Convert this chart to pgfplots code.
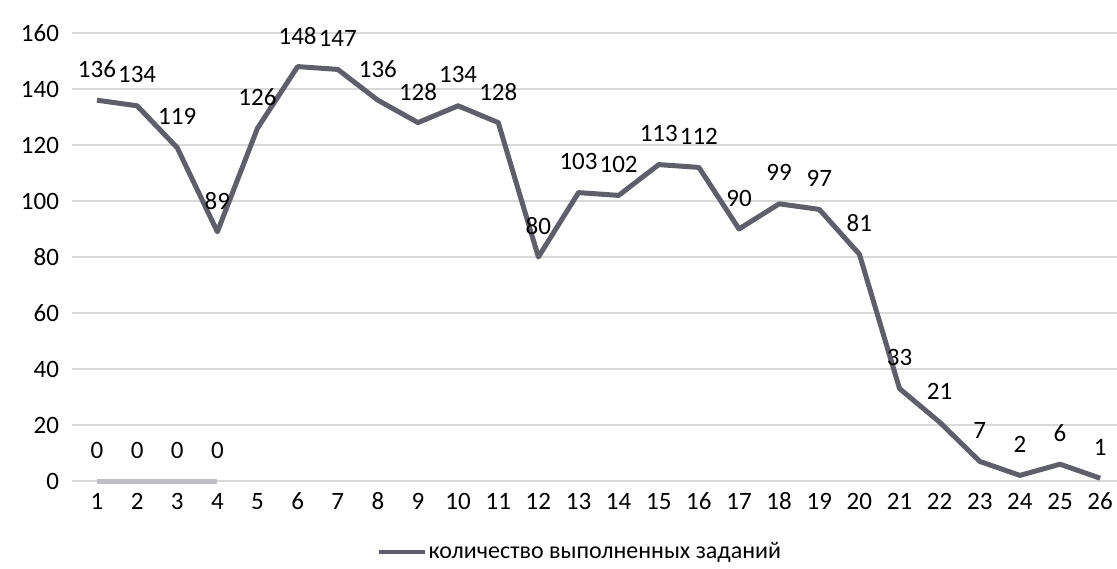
\documentclass[border=0pt]{standalone}
\usepackage{fontspec}
\setmainfont{Carlito}
\usepackage{pgfplots}
\pgfplotsset{compat=1.18}
\definecolor{mainline}{RGB}{95,95,108}
\definecolor{zeroline}{RGB}{190,190,196}
\begin{document}
\begin{tikzpicture}
\begin{axis}[
  scale only axis, width=522.5pt, height=224pt,
  xmin=0.377, xmax=26.42, ymin=0, ymax=160,
  xtick={1,...,26}, ytick={0,20,...,160},
  ymajorgrids, grid style={gray!30, line width=0.6pt},
  axis line style={draw=none}, major tick length=0pt,
  tick label style={font=\fontsize{12.5}{14}\selectfont},
  /pgf/number format/assume math mode=true,
  yticklabel style={xshift=-3pt},
  xticklabel style={text height=1.6ex, text depth=0pt, yshift=-3pt},
  clip=false,
  legend style={draw=none, fill=none, at={(0.486,-0.158)}, anchor=center,
    font=\fontsize{12}{14}\selectfont, inner sep=0pt,
    /tikz/every even column/.style={column sep=0pt}},
  legend cell align=left,
  legend image code/.code={\draw[#1, line width=2pt] (0pt,0pt) -- (23pt,0pt);},
  nodes near coords,
  nodes near coords style={anchor=center, yshift=15.5pt,
    font=\fontsize{12.5}{14}\selectfont, text=black},
]
\addplot[zeroline, line width=2.5pt, forget plot] coordinates {
  (1,0) (2,0) (3,0) (4,0)
};
\addplot[mainline, line width=2.5pt, line join=round] coordinates {
  (1,136) (2,134) (3,119) (4,89) (5,126) (6,148) (7,147) (8,136) (9,128)
  (10,134) (11,128) (12,80) (13,103) (14,102) (15,113) (16,112) (17,90)
  (18,99) (19,97) (20,81) (21,33) (22,21) (23,7) (24,2) (25,6) (26,1)
};
\addlegendentry[inner xsep=1pt]{количество выполненных заданий}
\end{axis}
\pgfresetboundingbox
\path[use as bounding box] ([xshift=-36pt,yshift=-43.5pt]current axis.south west)
  rectangle ([yshift=16.5pt]current axis.north east);
\end{tikzpicture}
\end{document}
